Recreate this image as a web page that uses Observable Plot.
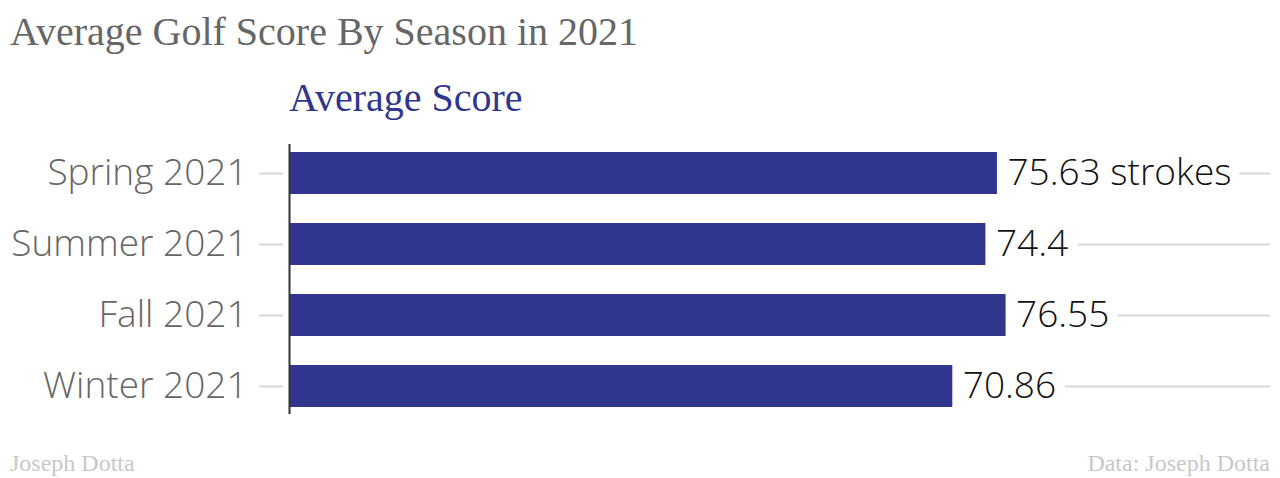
<!DOCTYPE html>
<html>
<head>
<meta charset="utf-8">
<script src="https://cdn.jsdelivr.net/npm/d3@7"></script>
<script src="https://cdn.jsdelivr.net/npm/@observablehq/plot@0.6"></script>
<style>
  html, body { margin: 0; padding: 0; background: #fff; }
  #wrap { position: relative; width: 1280px; height: 478px; overflow: hidden; }
  .serif { font-family: "Liberation Serif", "Times New Roman", serif; position: absolute; white-space: nowrap; line-height: 1; }
  #title { left: 10px; top: 12px; font-size: 40px; color: #666; }
  #subtitle { left: 289px; top: 78px; font-size: 40px; color: #30368f; }
  #credit { left: 10px; top: 451px; font-size: 24px; color: #c8c8c8; }
  #source { right: 10px; top: 451px; font-size: 24px; color: #c8c8c8; }
  #chart { position: absolute; left: 0; top: 99px; }
</style>
</head>
<body>
<div id="wrap">
  <div id="title" class="serif">Average Golf Score By Season in 2021</div>
  <div id="subtitle" class="serif">Average Score</div>
  <div id="chart"></div>
  <div id="credit" class="serif">Joseph Dotta</div>
  <div id="source" class="serif">Data: Joseph Dotta</div>
</div>
<script>
const seasons = ["Spring 2021", "Summer 2021", "Fall 2021", "Winter 2021"];
const scores = [75.63, 74.4, 76.55, 70.86];
const valueLabels = ["75.63 strokes", "74.4", "76.55", "70.86"];

const data = seasons.map((s, i) => ({season: s, score: scores[i], label: valueLabels[i]}));
const xMax = 104.8;

const font = "'Open Sans', sans-serif";
const chart = Plot.plot({
  width: 1280,
  height: 360,
  marginLeft: 289,
  marginRight: 10,
  marginTop: 23,
  marginBottom: 23,
  style: {fontFamily: font, background: "transparent", overflow: "visible"},
  x: {domain: [0, xMax], axis: null},
  y: {domain: seasons, padding: 0.41, label: null},
  marks: [
    Plot.ruleY(data, {y: "season", x1: () => -3.2, x2: () => -0.64, stroke: "#d9d9d9", strokeWidth: 2}),
    Plot.ruleY(data, {y: "season", x1: () => 0, x2: () => xMax, stroke: "#d9d9d9", strokeWidth: 2}),
    Plot.ruleY(data, {y: "season", x1: "score", x2: d => d.score + 1.5, stroke: "white", strokeWidth: 4}),
    Plot.text(data, {
      x: "score", y: "season", text: "label", dx: 10, textAnchor: "start",
      fill: "#111", stroke: "white", strokeWidth: 21, fontSize: 37, fontWeight: 300,
      fontFamily: font
    }),
    Plot.barX(data, {y: "season", x: "score", fill: "#31368f"}),
    Plot.axisY({tickSize: 0, tickPadding: 42, fontSize: 37, fontWeight: 300, fill: "#666", label: null, fontFamily: font}),
    Plot.ruleX([0], {stroke: "#333", strokeWidth: 2, insetTop: 22, insetBottom: 22})
  ]
});
document.getElementById("chart").appendChild(chart);
</script>
</body>
</html>
